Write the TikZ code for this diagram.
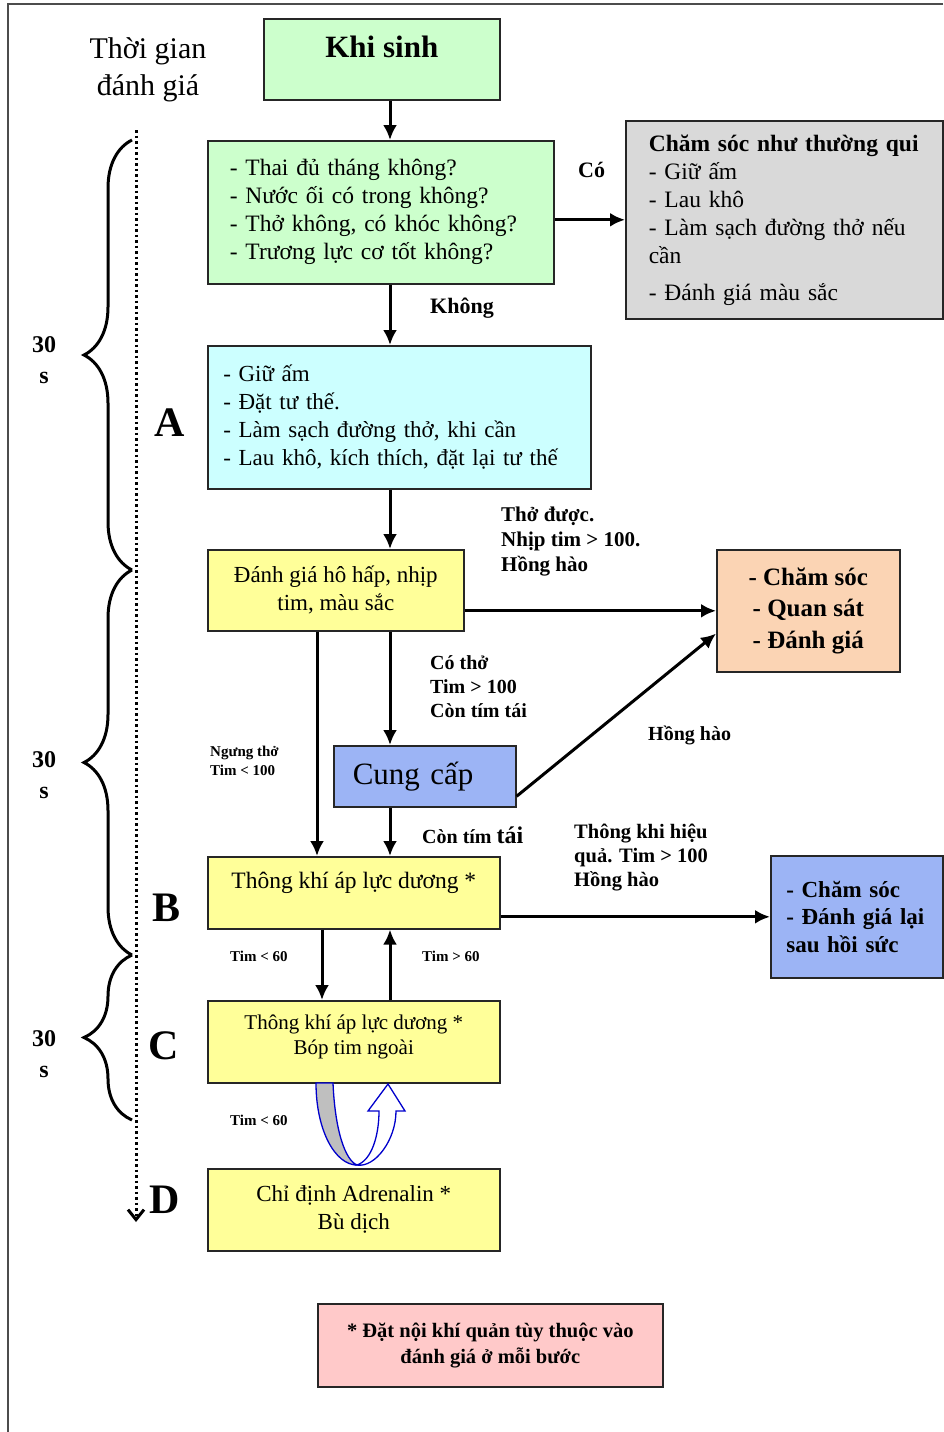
\documentclass[tikz,border=0pt]{standalone}
\usepackage{fontspec}
\setmainfont{Liberation Serif}
\usepackage{xcolor}
\usetikzlibrary{arrows.meta, calc, decorations.pathreplacing}
\definecolor{boxgreen}{HTML}{CCFFCC}
\definecolor{boxcyan}{HTML}{CCFFFF}
\definecolor{boxyellow}{HTML}{FFFF99}
\definecolor{boxgrey}{HTML}{D9D9D9}
\definecolor{boxorange}{HTML}{FBD4B4}
\definecolor{boxblue}{HTML}{9CB4F5}
\definecolor{boxpink}{HTML}{FFC9C9}

\begin{document}
\begin{tikzpicture}[x=1pt, y=-1pt,
    box/.style={draw=black!85, line width=1.6pt, anchor=north west, inner sep=0pt, font=\fontsize{23.5}{28}\selectfont},
    arrow/.style={-{Latex[length=15pt, width=14pt]}, line width=3pt},
    note/.style={anchor=west, inner sep=0pt, align=left, font=\bfseries\fontsize{21}{25}\selectfont},
    small/.style={note, font=\bfseries\fontsize{15}{19}\selectfont},
    period/.style={inner sep=0pt, align=center, font=\bfseries\fontsize{24}{31}\selectfont},
    letter/.style={inner sep=0pt, font=\bfseries\fontsize{42}{42}\selectfont},
    timebrace/.style={decorate, decoration={brace, amplitude=48pt}, line width=3pt}
    ]
    \useasboundingbox (0,0) rectangle (943,1432);

    % khung ngoai
    \draw[black!70, line width=1.6pt] (943,4) -- (8,4) -- (8,1432);

    % cot thoi gian
    \node[inner sep=0pt, align=center, font=\fontsize{30}{37}\selectfont] (thoigian) at (148,70) {Thời gian\\đánh giá};
    \coordinate (mocdau) at (136,130);
    \coordinate (mocD) at (136,1222);
    \draw[line width=3pt, dash pattern=on 2.5pt off 3pt, -{Straight Barb[length=10pt, width=16pt]}] (mocdau) -- (mocD);
    \draw[timebrace] (132,570) -- (132,140);
    \draw[timebrace] (132,955) -- (132,570);
    \draw[timebrace] (132,1120) -- (132,955);
    \node[period] (giay1) at (44,360) {30\\s};
    \node[period] (giay2) at (44,775) {30\\s};
    \node[period] (giay3) at (44,1054) {30\\s};
    \node[letter] (chuA) at (170,423) {A};
    \node[letter] (chuB) at (167,908) {B};
    \node[letter] (chuC) at (164,1046) {C};
    \node[letter] (chuD) at (165,1200) {D};

    % cac buoc
    \node[box, fill=boxgreen, minimum width=236, minimum height=81, text depth=26pt, font=\bfseries\fontsize{31}{36}\selectfont] (khisinh) at (263,18) {Khi sinh};
    \node[box, fill=boxgreen, minimum width=346, minimum height=143, text width=302pt, align=left] (hoi) at (207,140)
        {- Thai đủ tháng không?\\- Nước ối có trong không?\\- Thở không, có khóc không?\\- Trương lực cơ tốt không?};
    \node[box, fill=boxgrey, minimum width=317, minimum height=198, text width=271pt, align=left] (thuongqui) at (625,120)
        {\textbf{Chăm sóc như thường qui}\\- Giữ ấm\\- Lau khô\\- Làm sạch đường thở nếu\\cần\\[9pt]- Đánh giá màu sắc};
    \node[box, fill=boxcyan, minimum width=383, minimum height=143, text width=352pt, align=left, font=\fontsize{23}{28}\selectfont] (buocA) at (207,345)
        {- Giữ ấm\\- Đặt tư thế.\\- Làm sạch đường thở, khi cần\\- Lau khô, kích thích, đặt lại tư thế};
    \node[box, fill=boxyellow, minimum width=256, minimum height=81, align=center, font=\fontsize{23}{28}\selectfont] (danhgia) at (207,549)
        {Đánh giá hô hấp, nhịp\\tim, màu sắc};
    \node[box, fill=boxorange, minimum width=183, minimum height=122, align=center, font=\bfseries\fontsize{25}{31.5}\selectfont] (chamsoc) at (716,549)
        {- Chăm sóc\\- Quan sát\\- Đánh giá};
    \node[box, fill=boxblue, minimum width=182, minimum height=61, text width=144pt, align=left, font=\fontsize{31}{36}\selectfont] (cungcap) at (333,745) {Cung cấp};
    \node[box, fill=boxyellow, minimum width=292, minimum height=72, text depth=25pt, font=\fontsize{23.5}{27}\selectfont] (buocB) at (207,856)
        {Thông khí áp lực dương *};
    \node[box, fill=boxblue, minimum width=172, minimum height=122, text width=141pt, align=left, font=\bfseries\fontsize{23}{27.5}\selectfont] (hoisuc) at (770,855)
        {- Chăm sóc\\- Đánh giá lại\\sau hồi sức};
    \node[box, fill=boxyellow, minimum width=292, minimum height=82, text depth=14pt, align=center, font=\fontsize{21}{25}\selectfont] (buocC) at (207,1000)
        {Thông khí áp lực dương *\\Bóp tim ngoài};
    \node[box, fill=boxyellow, minimum width=292, minimum height=82, align=center, font=\fontsize{23}{28}\selectfont] (buocD) at (207,1168)
        {Chỉ định Adrenalin *\\Bù dịch};
    \node[box, fill=boxpink, minimum width=345, minimum height=83, align=center, font=\bfseries\fontsize{20.5}{26}\selectfont] (ghichu) at (317,1303)
        {* Đặt nội khí quản tùy thuộc vào\\đánh giá ở mỗi bước};

    % mui ten
    \coordinate (truc) at (390,0);
    \coordinate (nhanh) at (317,0);
    \coordinate (xuong) at (322,0);
    \draw[arrow] (khisinh.south -| truc) -- (hoi.north -| truc);
    \draw[arrow] (hoi.east |- thuongqui.west) -- (thuongqui.west);
    \draw[arrow] (hoi.south -| truc) -- (buocA.north -| truc);
    \draw[arrow] (buocA.south -| truc) -- (danhgia.north -| truc);
    \draw[arrow] (danhgia.east |- chamsoc.west) -- (chamsoc.west);
    \draw[arrow] (danhgia.south -| truc) -- (cungcap.north -| truc);
    \draw[arrow] (danhgia.south -| nhanh) -- (buocB.north -| nhanh);
    \draw[arrow] ($(cungcap.east)+(0,20)$) -- ($(chamsoc.south west)+(0,-39)$);
    \draw[arrow] (cungcap.south -| truc) -- (buocB.north -| truc);
    \draw[arrow] (buocB.east |- hoisuc.west) -- (hoisuc.west);
    \draw[arrow] (buocB.south -| xuong) -- (buocC.north -| xuong);
    \draw[arrow] (buocC.north -| truc) -- (buocB.south -| truc);

    % mui ten vong C - D
    \draw[blue!80!black, line width=1.3pt, fill=black!25] (316,1083) -- (333,1083)
        .. controls (335,1130) and (345,1160) .. (357,1165)
        .. controls (335,1165) and (316,1130) .. (316,1083) -- cycle;
    \draw[blue!80!black, line width=1.3pt, fill=white] (357,1165)
        .. controls (372,1160) and (379,1135) .. (379,1111) -- (368,1111) -- (388,1084) -- (405,1111) -- (396,1111)
        .. controls (396,1140) and (375,1168) .. (357,1165) -- cycle;

    % nhan
    \node[note, font=\bfseries\fontsize{22}{26}\selectfont] (co) at (578,170) {Có};
    \node[note, font=\bfseries\fontsize{22}{26}\selectfont] (khong) at (430,308) {Không};
    \node[note] (thoduoc) at (501,542) {Thở được.\\Nhịp tim > 100.\\Hồng hào};
    \node[note, font=\bfseries\fontsize{20}{24}\selectfont] (cotho) at (430,687) {Có thở\\Tim > 100\\Còn tím tái};
    \node[small] (ngungtho) at (210,761) {Ngưng thở\\Tim < 100};
    \node[note, font=\bfseries\fontsize{20}{24}\selectfont] (honghao) at (648,735) {Hồng hào};
    \node[note, font=\bfseries\fontsize{20}{24}\selectfont] (contim) at (422,835) {Còn tím {\fontsize{24}{24}\selectfont tái}};
    \node[note, font=\bfseries\fontsize{20.5}{24}\selectfont] (hieuqua) at (574,858) {Thông khi hiệu\\quả. Tim > 100\\Hồng hào};
    \node[small] (timduoi1) at (230,956) {Tim < 60};
    \node[small] (timtren) at (422,956) {Tim > 60};
    \node[small] (timduoi2) at (230,1120) {Tim < 60};
\end{tikzpicture}
\end{document}
